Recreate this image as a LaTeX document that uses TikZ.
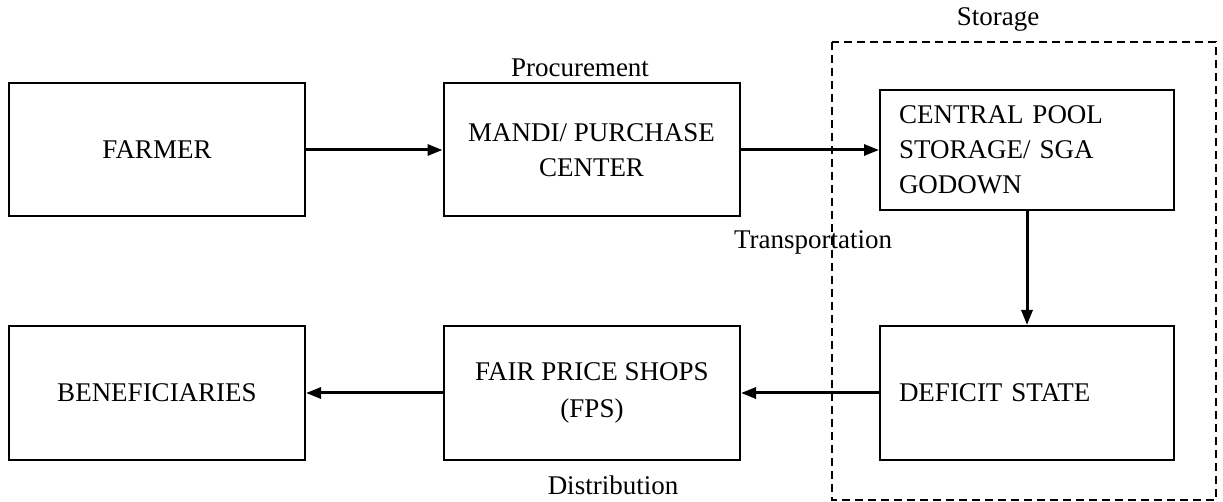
\documentclass[tikz,border=0pt]{standalone}
\usepackage{fontspec}
\setmainfont{Liberation Serif}
\usetikzlibrary{arrows.meta}

\begin{document}
\begin{tikzpicture}[x=0.5pt,y=-0.5pt,
    font=\fontsize{13.5}{17.5}\selectfont,
    stagebox/.style={draw,line width=1pt,minimum width=148pt,minimum height=66.5pt,align=center,inner sep=0pt},
    storebox/.style={draw,line width=1pt,minimum width=147pt,text width=128pt,align=left,inner xsep=9.5pt,inner ysep=0pt},
    flow/.style={line width=1.5pt,-{Triangle[length=7.5pt,width=5.5pt]}}]
            \useasboundingbox (0,0) rectangle (1223,502);
            \draw[line width=0.9pt,dash pattern=on 4pt off 2.5pt] (832,42) rectangle (1216,500);

            \node[stagebox] (farmer) at (157,150) {FARMER};
            \node[stagebox] (mandi) at (591.5,150) {MANDI/ PURCHASE\\CENTER};
            \node[storebox,minimum height=60pt] (pool) at (1027,150) {CENTRAL POOL\\STORAGE/ SGA\\GODOWN};
            \node[storebox,minimum height=67pt] (deficit) at (1027,393) {DEFICIT STATE};
            \node[stagebox,minimum height=67pt] (fps) at (592,393) {FAIR PRICE SHOPS\\[1pt](FPS)};
            \node[stagebox,minimum height=67pt] (benef) at (157,393) {BENEFICIARIES};

            \node (procure) at (580,68) {Procurement};
            \node (store) at (998,19) {Storage};
            \node (transport) at (813,242) {Transportation};
            \node (distrib) at (613,485) {Distribution};

            \draw[flow] (farmer.east) -- (mandi.west);
            \draw[flow] (mandi.east) -- (pool.west);
            \draw[flow] (pool.south) -- (deficit.north);
            \draw[flow] (deficit.west) -- (fps.east);
            \draw[flow] (fps.west) -- (benef.east);
        \end{tikzpicture}
\end{document}
